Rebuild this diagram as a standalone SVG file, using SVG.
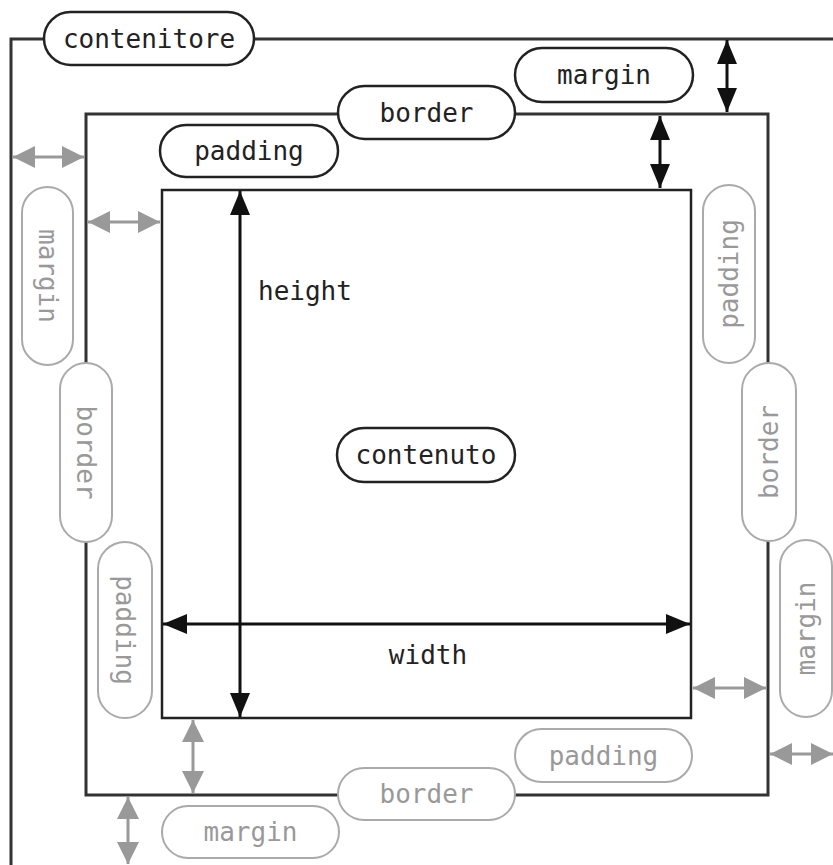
<svg xmlns="http://www.w3.org/2000/svg" width="833" height="865" viewBox="0 0 833 865">
  <style>
    .box { fill: none; stroke: #333; stroke-width: 3; stroke-linejoin: miter; }
    .content { fill: none; stroke: #222; stroke-width: 2.5; }
    .pill rect { fill: #fff; stroke-width: 2.5; }
    .pill text { font-family: "DejaVu Sans Mono", "Liberation Mono", monospace; font-size: 26px; text-anchor: middle; }
    .dark rect { stroke: #222; }
    .dark text { fill: #222; }
    .light rect { stroke: #aaa; stroke-width: 2; }
    .light text { fill: #999; }
    .lbl { font-family: "DejaVu Sans Mono", "Liberation Mono", monospace; font-size: 26px; fill: #222; }
    .arr-k { stroke: #111; stroke-width: 3; marker-start: url(#headK); marker-end: url(#headK); }
    .arr-g { stroke: #999; stroke-width: 3; marker-start: url(#headG); marker-end: url(#headG); }
  </style>
  <defs>
    <marker id="headK" markerUnits="userSpaceOnUse" markerWidth="24" markerHeight="20" refX="24" refY="10" orient="auto-start-reverse">
      <path d="M0,0 L24,10 L0,20 Z" fill="#111"/>
    </marker>
    <marker id="headG" markerUnits="userSpaceOnUse" markerWidth="22" markerHeight="22" refX="22" refY="11" orient="auto-start-reverse">
      <path d="M0,0 L22,11 L0,22 Z" fill="#999"/>
    </marker>
  </defs>

  <rect width="833" height="865" fill="#fff"/>

  <!-- outer container edges -->
  <g id="container-frame">
    <path class="box" d="M11,865 V39 H44 M254,39 H833"/>
  </g>

  <!-- border box, broken where its labels sit -->
  <g id="border-frame">
    <path class="box" d="M338,114 H86 V363 M86,542 V795 H338 M515,795 H768 V541 M768,363 V114 H515"/>
  </g>

  <!-- content box -->
  <g id="content-frame">
    <rect class="content" x="162" y="190" width="529" height="528"/>
  </g>

  <!-- dimension arrows -->
  <g id="connectors">
    <line class="arr-k" x1="727" y1="40" x2="727" y2="112"/>
    <line class="arr-k" x1="660" y1="116" x2="660" y2="188"/>
    <line class="arr-k" x1="240" y1="191" x2="240" y2="717"/>
    <line class="arr-k" x1="163" y1="624" x2="690" y2="624"/>

    <line class="arr-g" x1="13" y1="157" x2="84" y2="157"/>
    <line class="arr-g" x1="88" y1="222" x2="160" y2="222"/>
    <line class="arr-g" x1="193" y1="720" x2="193" y2="793"/>
    <line class="arr-g" x1="128" y1="797" x2="128" y2="864"/>
    <line class="arr-g" x1="693" y1="688" x2="766" y2="688"/>
    <line class="arr-g" x1="770" y1="754" x2="833" y2="754"/>
  </g>

  <!-- labelled pills -->
  <g id="contenitore" class="pill dark">
    <rect x="44" y="12" width="210" height="53" rx="26.5"/>
    <text x="149" y="48">contenitore</text>
  </g>
  <g id="margin-top" class="pill dark">
    <rect x="515" y="48" width="178" height="54" rx="27"/>
    <text x="604" y="84">margin</text>
  </g>
  <g id="border-top" class="pill dark">
    <rect x="338" y="86" width="177" height="53" rx="26.5"/>
    <text x="426.5" y="122">border</text>
  </g>
  <g id="padding-top" class="pill dark">
    <rect x="160" y="125" width="178" height="52" rx="26"/>
    <text x="249" y="160">padding</text>
  </g>
  <g id="contenuto" class="pill dark">
    <rect x="337" y="428" width="178" height="54" rx="27"/>
    <text x="426" y="464">contenuto</text>
  </g>

  <g id="margin-left" class="pill light">
    <rect x="22" y="187" width="51" height="178" rx="25.5"/>
    <text transform="translate(47.5,276) rotate(90)" x="0" y="9">margin</text>
  </g>
  <g id="border-left" class="pill light">
    <rect x="60" y="363" width="52" height="179" rx="26"/>
    <text transform="translate(86,452.5) rotate(90)" x="0" y="9">border</text>
  </g>
  <g id="padding-left" class="pill light">
    <rect x="98" y="542" width="54" height="176" rx="27"/>
    <text transform="translate(125,630) rotate(90)" x="0" y="9">padding</text>
  </g>

  <g id="padding-right" class="pill light">
    <rect x="703" y="185" width="52" height="178" rx="26"/>
    <text transform="translate(729,274) rotate(-90)" x="0" y="9">padding</text>
  </g>
  <g id="border-right" class="pill light">
    <rect x="742" y="363" width="54" height="178" rx="27"/>
    <text transform="translate(769,452) rotate(-90)" x="0" y="9">border</text>
  </g>
  <g id="margin-right" class="pill light">
    <rect x="780" y="540" width="52" height="177" rx="26"/>
    <text transform="translate(806,628.5) rotate(-90)" x="0" y="9">margin</text>
  </g>

  <g id="padding-bottom" class="pill light">
    <rect x="515" y="729" width="177" height="53" rx="26.5"/>
    <text x="603.5" y="765">padding</text>
  </g>
  <g id="border-bottom" class="pill light">
    <rect x="338" y="768" width="177" height="52" rx="26"/>
    <text x="426.5" y="803">border</text>
  </g>
  <g id="margin-bottom" class="pill light">
    <rect x="162" y="806" width="177" height="52" rx="26"/>
    <text x="250.5" y="841">margin</text>
  </g>

  <!-- dimension labels -->
  <text class="lbl" x="258" y="300">height</text>
  <text class="lbl" x="428" y="664" text-anchor="middle">width</text>
</svg>
